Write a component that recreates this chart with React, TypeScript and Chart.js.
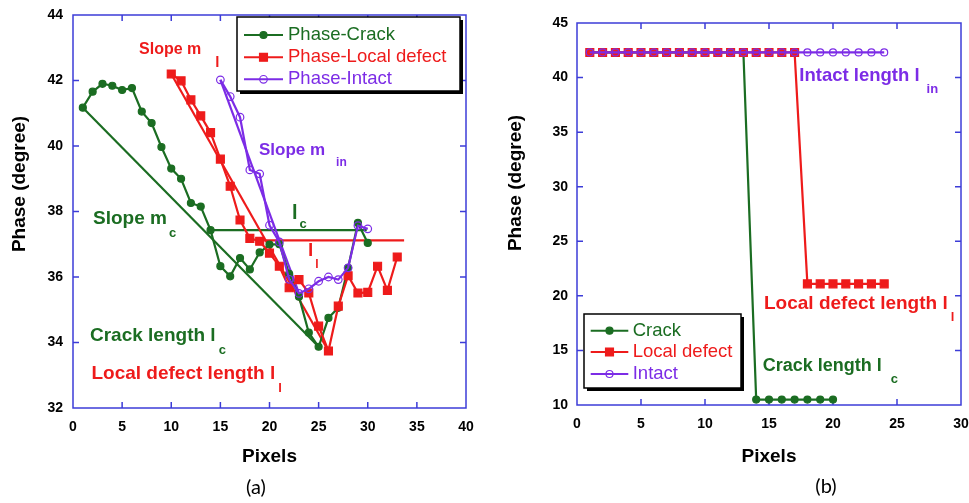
import React, { useEffect, useRef } from 'react';
import { Chart, registerables } from 'chart.js';

Chart.register(...registerables);

const FONT = "'Liberation Sans', Arial, Helvetica, sans-serif";
const GREEN = '#1b6d22';
const RED = '#ee1b1b';
const PURPLE = '#7c2ce6';
const AXIS_BLUE = '#3c3cd8';

// ---------------- (a) data ----------------
const crackPixelsA = [1, 2, 3, 4, 5, 6, 7, 8, 9, 10, 11, 12, 13, 14, 15, 16, 17, 18, 19, 20, 21, 22, 23, 24, 25, 26, 27, 28, 29, 30];
const crackPhaseA = [41.17, 41.66, 41.9, 41.84, 41.71, 41.77, 41.05, 40.7, 39.97, 39.31, 39.0, 38.26, 38.15, 37.43, 36.33, 36.02, 36.58, 36.23, 36.75, 36.99, 37.0, 36.1, 35.4, 34.3, 33.87, 34.75, 35.06, 36.28, 37.65, 37.04];
const localPixelsA = [10, 11, 12, 13, 14, 15, 16, 17, 18, 19, 20, 21, 22, 23, 24, 25, 26, 27, 28, 29, 30, 31, 32, 33];
const localPhaseA = [42.2, 41.99, 41.41, 40.92, 40.41, 39.6, 38.77, 37.74, 37.18, 37.09, 36.73, 36.33, 35.67, 35.92, 35.51, 34.5, 33.74, 35.11, 36.04, 35.51, 35.53, 36.33, 35.59, 36.61];
const intactPixelsA = [15, 16, 17, 18, 19, 20, 21, 22, 23, 24, 25, 26, 27, 28, 29, 30];
const intactPhaseA = [42.02, 41.51, 40.88, 39.27, 39.15, 37.58, 37.07, 35.93, 35.5, 35.64, 35.87, 36.0, 35.92, 36.28, 37.57, 37.47];

const crackSlopePixels = [1, 25];
const crackSlopePhase = [41.17, 33.87];
const localSlopePixels = [10, 26];
const localSlopePhase = [42.2, 33.74];
const intactSlopePixels = [15, 23];
const intactSlopePhase = [42.02, 35.5];
const crackLenPixels = [14, 29.9];
const crackLenPhase = [37.43, 37.43];
const localLenPixels = [19, 33.7];
const localLenPhase = [37.12, 37.12];

const xTicksA = [0, 5, 10, 15, 20, 25, 30, 35, 40];
const yTicksA = [32, 34, 36, 38, 40, 42, 44];

// ---------------- (b) data ----------------
const crackPixelsB = [1, 2, 3, 4, 5, 6, 7, 8, 9, 10, 11, 12, 13, 14, 15, 16, 17, 18, 19, 20];
const crackPhaseB = [42.3, 42.3, 42.3, 42.3, 42.3, 42.3, 42.3, 42.3, 42.3, 42.3, 42.3, 42.3, 42.3, 10.5, 10.5, 10.5, 10.5, 10.5, 10.5, 10.5];
const localPixelsB = [1, 2, 3, 4, 5, 6, 7, 8, 9, 10, 11, 12, 13, 14, 15, 16, 17, 18, 19, 20, 21, 22, 23, 24];
const localPhaseB = [42.3, 42.3, 42.3, 42.3, 42.3, 42.3, 42.3, 42.3, 42.3, 42.3, 42.3, 42.3, 42.3, 42.3, 42.3, 42.3, 42.3, 21.1, 21.1, 21.1, 21.1, 21.1, 21.1, 21.1];
const intactPixelsB = [1, 2, 3, 4, 5, 6, 7, 8, 9, 10, 11, 12, 13, 14, 15, 16, 17, 18, 19, 20, 21, 22, 23, 24];
const intactPhaseB = [42.3, 42.3, 42.3, 42.3, 42.3, 42.3, 42.3, 42.3, 42.3, 42.3, 42.3, 42.3, 42.3, 42.3, 42.3, 42.3, 42.3, 42.3, 42.3, 42.3, 42.3, 42.3, 42.3, 42.3];

const xTicksB = [0, 5, 10, 15, 20, 25, 30];
const yTicksB = [10, 15, 20, 25, 30, 35, 40, 45];

const pts = (xs: number[], ys: number[]) => xs.map((x, i) => ({ x, y: ys[i] }));

type Ann = { x: number; y: number; text: string; size: number; color: string; sub: string; subSize: number; subDx: number; subDy: number };

const annotationsA: Ann[] = [
  { x: 6.72, y: 42.93, text: 'Slope m', size: 16, color: RED, sub: 'l', subSize: 15, subDx: 14, subDy: 17 },
  { x: 18.93, y: 39.88, text: 'Slope m', size: 17, color: PURPLE, sub: 'in', subSize: 12, subDx: 11, subDy: 16 },
  { x: 2.04, y: 37.77, text: 'Slope m', size: 19, color: GREEN, sub: 'c', subSize: 13, subDx: 2, subDy: 18 },
  { x: 22.29, y: 37.95, text: 'l', size: 20, color: GREEN, sub: 'c', subSize: 13, subDx: 2, subDy: 15 },
  { x: 23.92, y: 36.79, text: 'l', size: 19, color: RED, sub: 'l', subSize: 12, subDx: 2, subDy: 17 },
  { x: 1.73, y: 34.2, text: 'Crack length l', size: 19, color: GREEN, sub: 'c', subSize: 13, subDx: 3, subDy: 18 },
  { x: 1.88, y: 33.04, text: 'Local defect length l', size: 19, color: RED, sub: 'l', subSize: 13, subDx: 3, subDy: 18 },
];

const annotationsB: Ann[] = [
  { x: 17.37, y: 40.14, text: 'Intact length l', size: 18.5, color: PURPLE, sub: 'in', subSize: 13, subDx: 7, subDy: 17 },
  { x: 14.61, y: 19.25, text: 'Local defect length l', size: 19, color: RED, sub: 'l', subSize: 13, subDx: 3, subDy: 17 },
  { x: 14.51, y: 13.57, text: 'Crack length l', size: 18, color: GREEN, sub: 'c', subSize: 13, subDx: 9, subDy: 17 },
];

function drawMarker(ctx: CanvasRenderingContext2D, style: string, x: number, y: number, r: number, fill: string, stroke: string, bw: number) {
  ctx.beginPath();
  if (style === 'rect') {
    const s = r * Math.SQRT1_2;
    ctx.rect(x - s, y - s, 2 * s, 2 * s);
  } else {
    ctx.arc(x, y, r, 0, Math.PI * 2);
  }
  ctx.fillStyle = fill;
  ctx.fill();
  ctx.lineWidth = bw;
  ctx.strokeStyle = stroke;
  ctx.stroke();
}

const decorPlugin = {
  id: 'decor',
  beforeDatasetsDraw(chart: any) {
    const { ctx, chartArea: ca, scales } = chart;
    const xs = scales.x;
    const ys = scales.y;
    ctx.save();
    ctx.strokeStyle = AXIS_BLUE;
    ctx.lineWidth = 1.5;
    ctx.strokeRect(ca.left, ca.top, ca.right - ca.left, ca.bottom - ca.top);
    const T = 6;
    ctx.beginPath();
    xs.ticks.forEach((t: any) => {
      const p = xs.getPixelForValue(t.value);
      if (p <= ca.left + 1 || p >= ca.right - 1) return;
      ctx.moveTo(p, ca.bottom);
      ctx.lineTo(p, ca.bottom - T);
      ctx.moveTo(p, ca.top);
      ctx.lineTo(p, ca.top + T);
    });
    ys.ticks.forEach((t: any) => {
      const p = ys.getPixelForValue(t.value);
      if (p <= ca.top + 1 || p >= ca.bottom - 1) return;
      ctx.moveTo(ca.left, p);
      ctx.lineTo(ca.left + T, p);
      ctx.moveTo(ca.right, p);
      ctx.lineTo(ca.right - T, p);
    });
    ctx.stroke();
    ctx.restore();
  },
  afterDraw(chart: any, _args: any, opts: any) {
    const { ctx, chartArea: ca, scales } = chart;
    const xs = scales.x;
    const ys = scales.y;
    ctx.save();
    // annotations
    (opts.annotations || []).forEach((a: Ann) => {
      const px = xs.getPixelForValue(a.x);
      const py = ys.getPixelForValue(a.y);
      ctx.fillStyle = a.color;
      ctx.textAlign = 'left';
      ctx.font = `bold ${a.size}px ${FONT}`;
      ctx.textBaseline = 'middle';
      ctx.fillText(a.text, px, py);
      const w = ctx.measureText(a.text).width;
      ctx.font = `bold ${a.subSize}px ${FONT}`;
      ctx.textBaseline = 'alphabetic';
      ctx.fillText(a.sub, px + w + a.subDx, py + a.subDy);
    });
    // legend
    const lg = opts.legend;
    if (lg) {
      const bx = ca.left + lg.dx;
      const by = ca.top + lg.dy;
      ctx.fillStyle = '#000';
      ctx.fillRect(bx + 3, by + 3, lg.w, lg.h);
      ctx.fillStyle = '#fff';
      ctx.fillRect(bx, by, lg.w, lg.h);
      ctx.strokeStyle = '#000';
      ctx.lineWidth = 1.5;
      ctx.strokeRect(bx, by, lg.w, lg.h);
      lg.items.forEach((idx: number, i: number) => {
        const ds = chart.data.datasets[idx];
        const y = by + lg.rows[i];
        ctx.strokeStyle = ds.borderColor;
        ctx.lineWidth = 2;
        ctx.beginPath();
        ctx.moveTo(bx + lg.line0, y);
        ctx.lineTo(bx + lg.line1, y);
        ctx.stroke();
        drawMarker(ctx, ds.pointStyle, bx + (lg.line0 + lg.line1) / 2, y, ds.pointRadius, ds.pointBackgroundColor, ds.pointBorderColor, ds.pointBorderWidth);
        ctx.fillStyle = ds.borderColor;
        ctx.font = `${lg.fontSize}px ${FONT}`;
        ctx.textAlign = 'left';
        ctx.textBaseline = 'middle';
        ctx.fillText(ds.label, bx + lg.text, y);
      });
    }
    // y axis title
    if (opts.yTitle) {
      ctx.save();
      ctx.translate(opts.yTitle.x, opts.yTitle.y);
      ctx.rotate(-Math.PI / 2);
      ctx.fillStyle = '#000';
      ctx.font = `bold 19px ${FONT}`;
      ctx.textAlign = 'center';
      ctx.textBaseline = 'middle';
      ctx.fillText(opts.yTitle.text, 0, 0);
      ctx.restore();
    }
    // caption
    if (opts.caption) {
      ctx.fillStyle = '#000';
      ctx.font = `20px Lato, 'Open Sans', sans-serif`;
      ctx.textAlign = 'center';
      ctx.textBaseline = 'middle';
      ctx.fillText(opts.caption.text, opts.caption.x, opts.caption.y);
    }
    ctx.restore();
  },
};

function makeScales(xTicks: number[], yTicks: number[], yWidth: number, xHeight: number, yPad: number) {
  const tickFont = { family: FONT, size: 14, weight: 'bold' as const };
  return {
    x: {
      type: 'linear' as const,
      min: xTicks[0],
      max: xTicks[xTicks.length - 1],
      afterBuildTicks: (s: any) => {
        s.ticks = xTicks.map((v) => ({ value: v }));
      },
      grid: { display: false, drawTicks: false },
      border: { display: false },
      ticks: { color: '#000', font: tickFont, padding: 11, maxRotation: 0, autoSkip: false },
      title: { display: true, text: 'Pixels', color: '#000', font: { family: FONT, size: 19, weight: 'bold' as const }, padding: { top: 0, bottom: 35 } },
      afterFit: (s: any) => {
        s.height = xHeight;
        s.paddingLeft = 0;
        s.paddingRight = 0;
      },
    },
    y: {
      type: 'linear' as const,
      min: yTicks[0],
      max: yTicks[yTicks.length - 1],
      afterBuildTicks: (s: any) => {
        s.ticks = yTicks.map((v) => ({ value: v }));
      },
      grid: { display: false, drawTicks: false },
      border: { display: false },
      ticks: { color: '#000', font: tickFont, padding: yPad, autoSkip: false },
      afterFit: (s: any) => {
        s.width = yWidth;
        s.paddingTop = 0;
        s.paddingBottom = 0;
      },
    },
  };
}

function series(label: string, data: any[], color: string, style: string, radius: number, fill: string, order: number) {
  return {
    label,
    data,
    showLine: true,
    borderColor: color,
    backgroundColor: color,
    borderWidth: 2.2,
    pointStyle: style,
    pointRadius: radius,
    pointBackgroundColor: fill,
    pointBorderColor: color,
    pointBorderWidth: 1.2,
    tension: 0,
    order,
  };
}

function plainLine(label: string, data: any[], color: string) {
  return {
    label,
    data,
    showLine: true,
    borderColor: color,
    backgroundColor: color,
    borderWidth: 2.2,
    pointRadius: 0,
    tension: 0,
    order: 5,
  };
}

function configA(): any {
  return {
    type: 'scatter',
    data: {
      datasets: [
        series('Phase-Crack', pts(crackPixelsA, crackPhaseA), GREEN, 'circle', 3.5, GREEN, 3),
        series('Phase-Local defect', pts(localPixelsA, localPhaseA), RED, 'rect', 5.6, RED, 2),
        series('Phase-Intact', pts(intactPixelsA, intactPhaseA), PURPLE, 'circle', 3.8, 'rgba(0,0,0,0)', 1),
        plainLine('Slope m_c', pts(crackSlopePixels, crackSlopePhase), GREEN),
        plainLine('Slope m_l', pts(localSlopePixels, localSlopePhase), RED),
        plainLine('Slope m_in', pts(intactSlopePixels, intactSlopePhase), PURPLE),
        plainLine('Crack length l_c', pts(crackLenPixels, crackLenPhase), GREEN),
        plainLine('Local defect length l_l', pts(localLenPixels, localLenPhase), RED),
      ],
    },
    options: {
      responsive: false,
      animation: false,
      layout: { padding: { left: 0, top: 15, right: 34, bottom: 0 } },
      scales: makeScales(xTicksA, yTicksA, 73, 95, 10),
      plugins: {
        legend: { display: false },
        tooltip: { enabled: false },
        decor: {
          annotations: annotationsA,
          legend: { dx: 164, dy: 2, w: 223, h: 74, rows: [18, 40.3, 62.3], line0: 7, line1: 46, text: 51, fontSize: 18.5, items: [0, 1, 2] },
          yTitle: { x: 20, y: 184, text: 'Phase (degree)' },
          caption: { x: 256, y: 488, text: '(a)' },
        },
      },
    },
    plugins: [decorPlugin],
  };
}

function configB(): any {
  return {
    type: 'scatter',
    data: {
      datasets: [
        series('Crack', pts(crackPixelsB, crackPhaseB), GREEN, 'circle', 3.5, GREEN, 3),
        series('Local defect', pts(localPixelsB, localPhaseB), RED, 'rect', 5.6, RED, 2),
        series('Intact', pts(intactPixelsB, intactPhaseB), PURPLE, 'circle', 3.5, 'rgba(0,0,0,0)', 1),
      ],
    },
    options: {
      responsive: false,
      animation: false,
      layout: { padding: { left: 0, top: 23, right: 8, bottom: 0 } },
      scales: makeScales(xTicksB, yTicksB, 77, 98, 9),
      plugins: {
        legend: { display: false },
        tooltip: { enabled: false },
        decor: {
          annotations: annotationsB,
          legend: { dx: 7, dy: 291, w: 157, h: 74, rows: [16.7, 38, 60], line0: 6.7, line1: 44.3, text: 48.7, fontSize: 18.5, items: [0, 1, 2] },
          yTitle: { x: 16, y: 183, text: 'Phase (degree)' },
          caption: { x: 326, y: 487, text: '(b)' },
        },
      },
    },
    plugins: [decorPlugin],
  };
}

function ChartCanvas({ make, left, width }: { make: () => any; left: number; width: number }) {
  const ref = useRef<HTMLCanvasElement>(null);
  useEffect(() => {
    const chart = new Chart(ref.current as HTMLCanvasElement, make());
    return () => chart.destroy();
  }, [make]);
  return (
    <canvas
      ref={ref}
      width={width}
      height={503}
      style={{ position: 'absolute', left, top: 0, width, height: 503, display: 'block' }}
    />
  );
}

export default function App() {
  return (
    <div style={{ position: 'fixed', left: 0, top: 0, width: 969, height: 503, background: '#fff', overflow: 'hidden' }}>
      <ChartCanvas make={configA} left={0} width={500} />
      <ChartCanvas make={configB} left={500} width={469} />
    </div>
  );
}
